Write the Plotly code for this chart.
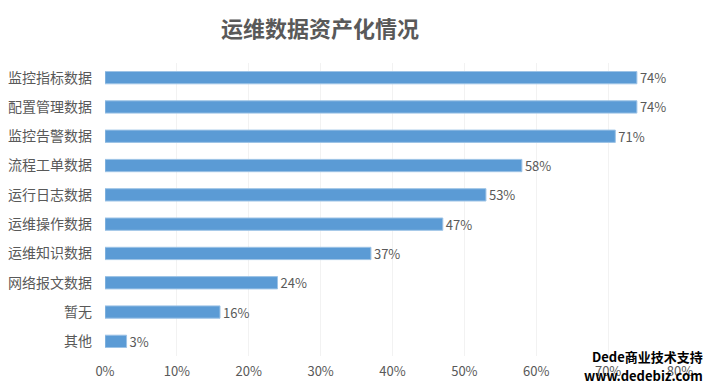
import plotly.graph_objects as go

categories = ["监控指标数据", "配置管理数据", "监控告警数据", "流程工单数据", "运行日志数据",
              "运维操作数据", "运维知识数据", "网络报文数据", "暂无", "其他"]
values = [74, 74, 71, 58, 53, 47, 37, 24, 16, 3]
tick_vals = [0, 10, 20, 30, 40, 50, 60, 70, 80]
tick_text = [f"{v}%" for v in tick_vals]

FONT = "Noto Sans CJK SC, Microsoft YaHei, sans-serif"

fig = go.Figure(go.Bar(
    y=categories,
    x=values,
    orientation="h",
    marker=dict(color="#5B9BD5", line=dict(color="#9DC3E6", width=1)),
    text=[f"{v}%" for v in values],
    textposition="outside",
    constraintext="none",
    textfont=dict(size=13, color="#595959", family=FONT),
    cliponaxis=False,
    hoverinfo="skip",
))

fig.update_layout(
    width=708, height=389,
    margin=dict(l=105, r=28, t=63, b=33),
    paper_bgcolor="white", plot_bgcolor="white",
    bargap=0.58,
    showlegend=False,
    font=dict(family=FONT, color="#595959"),
    title=dict(text="<b>运维数据资产化情况</b>", x=0.452, xanchor="center", y=0.925, yanchor="middle",
               font=dict(size=22, color="#595959", family=FONT)),
    xaxis=dict(range=[0, 80], tickvals=tick_vals, ticktext=tick_text, showgrid=True,
               gridcolor="#F2F2F2", gridwidth=1, zeroline=False, showline=False,
               tickfont=dict(size=13, color="#595959"), ticks="", ticklen=0,
               ticklabelstandoff=6, automargin=False, fixedrange=True),
    yaxis=dict(autorange="reversed", showgrid=False, showline=False, ticks="",
               tickfont=dict(size=14, color="#595959"), ticklabelstandoff=12,
               automargin=False, fixedrange=True),
)

fig.add_annotation(text="<b>Dede商业技术支持</b>", xref="paper", yref="paper", x=1.043, y=-0.003,
                   xanchor="right", yanchor="middle", showarrow=False,
                   font=dict(size=13, color="black", family=FONT))
fig.add_annotation(text="<b>www.dedebiz.com</b>", xref="paper", yref="paper", x=1.043, y=-0.065,
                   xanchor="right", yanchor="middle", showarrow=False,
                   font=dict(size=13, color="black", family=FONT))

fig.write_html("out.html", config={"displayModeBar": False},
               post_script="document.body.style.margin='0';")
